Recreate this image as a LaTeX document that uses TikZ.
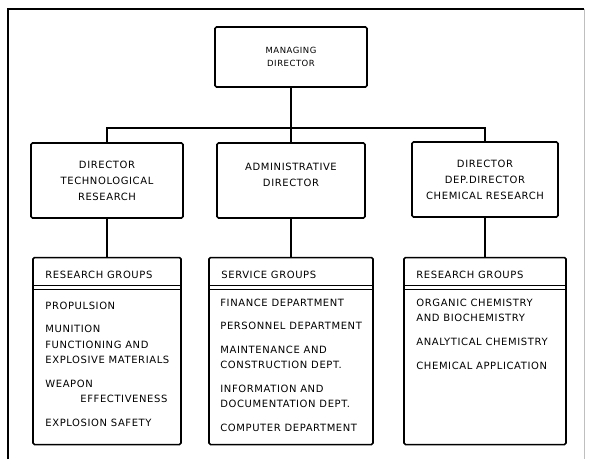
\documentclass[tikz,border=0pt]{standalone}
\usepackage{fontspec}
\setmainfont{DejaVu Sans}[LetterSpace=6]
\usepackage{tikz}
\usetikzlibrary{positioning,calc}

\begin{document}
\begin{tikzpicture}[
    x=1pt, y=-1pt,
    every node/.style={
        inner sep=0pt,
        font=\fontsize{10}{16}\selectfont
    },
    dirbox/.style={
        draw,
        line width=1.6pt,
        rounded corners=1.5pt,
        align=center,
        minimum height=75pt
    },
    groupbox/.style={
        draw,
        line width=1.6pt,
        rounded corners=1.5pt,
        minimum height=187pt
    },
    grouplist/.style={
        anchor=north west,
        align=left,
        font=\fontsize{10}{15.5}\selectfont
    },
    link/.style={draw, line width=1.3pt}
]

\useasboundingbox (0,0) rectangle (590,459);

% frame
\draw[line width=1.8pt] (8,459) -- (8,9) -- (584,9);
\draw[black!25, line width=0.8pt] (584,9) -- (584,459);

\node[dirbox, minimum width=152pt, minimum height=60pt,
      font=\fontsize{8.5}{13}\selectfont] (md) at (291,57) {MANAGING\\DIRECTOR};

\node[dirbox, minimum width=152pt] (dtr) at (107,180.5)
    {DIRECTOR\\TECHNOLOGICAL\\RESEARCH};
\node[dirbox, minimum width=148pt] (adm) at (291,180.5)
    {ADMINISTRATIVE\\DIRECTOR\\[-5pt]\mbox{}};
\node[dirbox, minimum width=146pt] (dcr) at (485,179.5)
    {DIRECTOR\\DEP.DIRECTOR\\CHEMICAL RESEARCH};

\coordinate (bus) at (291,128);
\draw[link] (md.south) -- (adm.north);
\draw[link] (dtr.north) |- (bus) -| (dcr.north);

% group boxes
\node[groupbox, minimum width=148pt, below=38pt of dtr] (rg1) {};
\node[groupbox, minimum width=164pt, below=38pt of adm] (sg2) {};
\node[groupbox, minimum width=162pt, below=39pt of dcr] (rg3) {};

\draw[link] (dtr) -- (rg1);
\draw[link] (adm) -- (sg2);
\draw[link] (dcr) -- (rg3);

\foreach \g/\head in {rg1/RESEARCH GROUPS, sg2/SERVICE GROUPS, rg3/RESEARCH GROUPS} {
    \node[anchor=west] (\g h) at ($(\g.north west)+(13,18)$) {\head};
    \draw[line width=1.1pt] ($(\g.north west)+(0,29)$) -- ($(\g.north east)+(0,29)$);
    \draw[line width=1.1pt] ($(\g.north west)+(0,33)$) -- ($(\g.north east)+(0,33)$);
}

\node[grouplist] (rg1l) at ($(rg1.north west)+(13,45)$)
    {PROPULSION\\[8pt]
     MUNITION\\FUNCTIONING AND\\EXPLOSIVE MATERIALS\\[8pt]
     WEAPON\\\hspace*{35pt}EFFECTIVENESS\\[8pt]
     EXPLOSION SAFETY};
\node[grouplist] (sg2l) at ($(sg2.north west)+(12,42)$)
    {FINANCE DEPARTMENT\\[8pt]
     PERSONNEL DEPARTMENT\\[8pt]
     MAINTENANCE AND\\CONSTRUCTION DEPT.\\[8pt]
     INFORMATION AND\\DOCUMENTATION DEPT.\\[8pt]
     COMPUTER DEPARTMENT};
\node[grouplist] (rg3l) at ($(rg3.north west)+(13,42)$)
    {ORGANIC CHEMISTRY\\AND BIOCHEMISTRY\\[8.5pt]
     ANALYTICAL CHEMISTRY\\[8.5pt]
     CHEMICAL APPLICATION};

\end{tikzpicture}
\end{document}
